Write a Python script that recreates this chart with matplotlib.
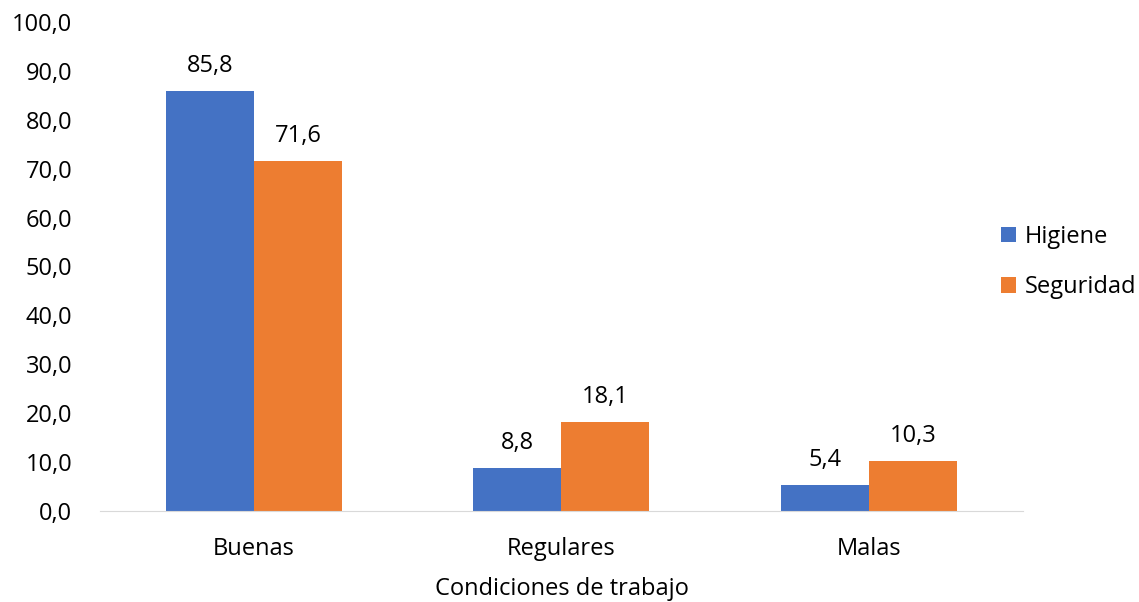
import matplotlib
matplotlib.use("Agg")
import matplotlib.pyplot as plt
import numpy as np

categorias = ["Buenas", "Regulares", "Malas"]
higiene = [85.8, 8.8, 5.4]
seguridad = [71.6, 18.1, 10.3]
y_ticks = [0, 10, 20, 30, 40, 50, 60, 70, 80, 90, 100]

plt.rcParams['font.family'] = ['Open Sans', 'DejaVu Sans']
fs = 17

fig = plt.figure(figsize=(11.39, 6.02), dpi=100)
ax = fig.add_axes([0.0878, 0.1512, 0.8103, 0.8123])

x = np.arange(len(categorias))
w = 0.286
b1 = ax.bar(x - w / 2, higiene, w, color='#4472C4', label='Higiene')
b2 = ax.bar(x + w / 2, seguridad, w, color='#ED7D31', label='Seguridad')

def fmt(v):
    return ('%.1f' % v).replace('.', ',')

# value labels above each bar
for bars, vals in ((b1, higiene), (b2, seguridad)):
    for r, v in zip(bars, vals):
        ax.annotate(fmt(v), (r.get_x() + r.get_width() / 2, v), xytext=(0, 13.7),
                    textcoords='offset points', ha='center', va='baseline', fontsize=fs)

ax.set_xlim(-0.5, 2.5)
ax.set_ylim(0, 100)
ax.set_yticks(y_ticks)
ax.set_yticklabels([fmt(v) for v in y_ticks], fontsize=fs)
ax.set_xticks(x)
ax.set_xticklabels(categorias, fontsize=fs)
ax.tick_params(length=0)
ax.tick_params(axis='x', pad=19)
ax.tick_params(axis='y', pad=20)
for s in ('top', 'right', 'left'):
    ax.spines[s].set_visible(False)
ax.spines['bottom'].set_color('#D9D9D9')
ax.set_xlabel('Condiciones de trabajo', fontsize=fs, labelpad=11)

fig.legend(handles=[b1, b2], loc='center left', bbox_to_anchor=(0.8789, 0.5648),
           bbox_transform=fig.transFigure, frameon=False, fontsize=fs,
           handlelength=0.65, handleheight=0.65, labelspacing=1.12,
           handletextpad=0.34, borderpad=0, borderaxespad=0)

fig.savefig('out.png', dpi=100)
